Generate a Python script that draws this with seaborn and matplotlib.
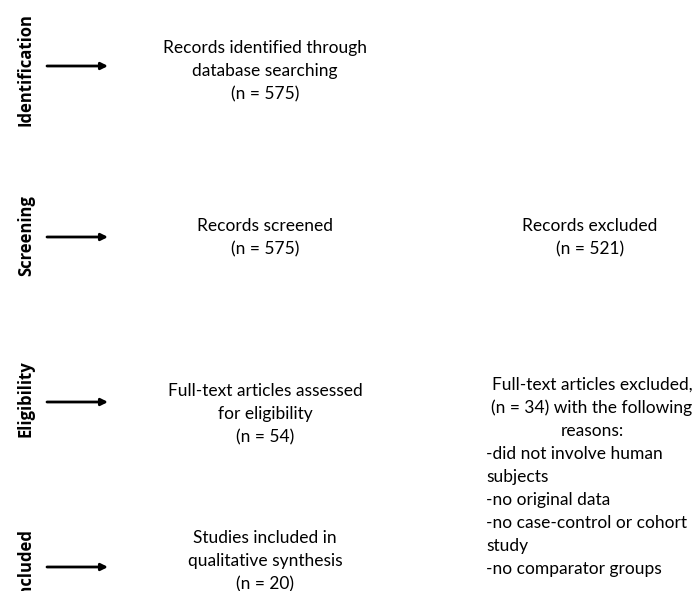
import matplotlib

matplotlib.use("Agg")

import matplotlib.pyplot as plt
import seaborn as sns

sns.set_theme(style="white")
plt.rcParams["font.family"] = ["Lato", "DejaVu Sans"]

# Flow diagram content
stages = ["Identification", "Screening", "Eligibility", "Included"]
main_boxes = [
    ["Records identified through", "database searching", "(n = 575)"],
    ["Records screened", "(n = 575)"],
    ["Full-text articles assessed", "for eligibility", "(n = 54)"],
    ["Studies included in", "qualitative synthesis", "(n = 20)"],
]
excluded_screen = ["Records excluded", "(n = 521)"]
excluded_full_head = ["Full-text articles excluded,", "(n = 34) with the following", "reasons:"]
excluded_full_reasons = [
    "-did not involve human",
    "subjects",
    "-no original data",
    "-no case-control or cohort",
    "study",
    "-no comparator groups",
]

W, H = 695, 591
stage_y = [70, 236, 399, 564]
arrow_y = [66, 237, 402, 567]
main_top = [48, 226, 391, 538]
LINE = 23
FS = 12.5

fig = plt.figure(figsize=(W / 100, H / 100), dpi=100)
ax = fig.add_axes([0, 0, 1, 1])
ax.set_xlim(0, W)
ax.set_ylim(H, 0)
ax.axis("off")


def lines(x, y0, items, ha="center"):
    for i, t in enumerate(items):
        ax.text(x, y0 + i * LINE, t, ha=ha, va="center", fontsize=FS, color="black")


for name, sy, ay, top, box in zip(stages, stage_y, arrow_y, main_top, main_boxes):
    ax.text(26, sy, name, rotation=90, ha="center", va="center",
            fontsize=12, fontweight="bold", color="black",
            family=["Open Sans", "DejaVu Sans"])
    ax.annotate("", xy=(108, ay), xytext=(47, ay),
                arrowprops=dict(arrowstyle="-|>", color="black", lw=2,
                                mutation_scale=10, shrinkA=0, shrinkB=0))
    lines(265, top, box)

lines(590, 226, excluded_screen)
lines(592, 385, excluded_full_head)
lines(486, 385 + 3 * LINE, excluded_full_reasons, ha="left")

fig.savefig("out.png", dpi=100)
